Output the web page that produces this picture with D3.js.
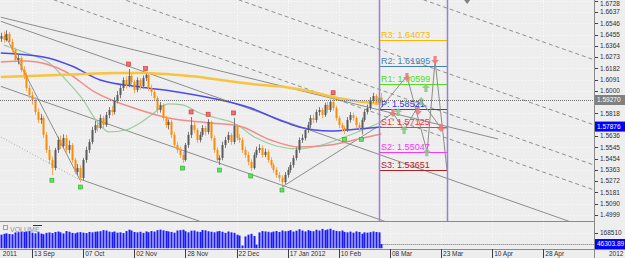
<!DOCTYPE html>
<html>
<head>
<meta charset="utf-8">
<script src="https://cdn.jsdelivr.net/npm/d3@7"></script>
<style>
body { margin: 0; background: #eeeeee; }
svg { display: block; font-family: "Liberation Sans", Arial, sans-serif; }
</style>
</head>
<body>
<div id="chart"></div>
<script>
// daily bars, bar index 0 = first bar on screen
var opens = [1.6420,1.6444,1.6411,1.6460,1.6395,1.6331,1.6250,1.6266,1.6169,1.6129,
 1.6024,1.5967,1.5927,1.5830,1.5766,1.5782,1.5645,1.5524,1.5443,1.5378,
 1.5524,1.5604,1.5556,1.5620,1.5524,1.5564,1.5443,1.5346,1.5378,1.5298,
 1.5443,1.5524,1.5588,1.5685,1.5725,1.5701,1.5782,1.5725,1.5806,1.5846,
 1.5830,1.5927,1.5967,1.6024,1.6088,1.6048,1.6121,1.6072,1.6008,1.6088,
 1.6040,1.6105,1.6129,1.6024,1.5992,1.5943,1.5846,1.5887,1.5782,1.5725,
 1.5750,1.5645,1.5564,1.5524,1.5483,1.5443,1.5564,1.5645,1.5725,1.5685,
 1.5604,1.5645,1.5701,1.5669,1.5750,1.5620,1.5524,1.5443,1.5459,1.5564,
 1.5604,1.5645,1.5588,1.5717,1.5620,1.5604,1.5524,1.5483,1.5427,1.5378,
 1.5483,1.5524,1.5540,1.5483,1.5508,1.5443,1.5402,1.5362,1.5322,1.5298,
 1.5265,1.5322,1.5362,1.5402,1.5459,1.5524,1.5604,1.5620,1.5685,1.5725,
 1.5782,1.5766,1.5830,1.5846,1.5806,1.5887,1.5846,1.5911,1.5862,1.5782,
 1.5725,1.5701,1.5685,1.5766,1.5806,1.5782,1.5725,1.5701,1.5766,1.5830,
 1.5862,1.5927,1.5959,1.5903,1.5946];
var highs = [1.6470,1.6480,1.6490,1.6475,1.6420,1.6350,1.6300,1.6280,1.6200,1.6150,
 1.6050,1.5995,1.5950,1.5860,1.5815,1.5800,1.5670,1.5560,1.5470,1.5540,
 1.5630,1.5640,1.5650,1.5645,1.5600,1.5580,1.5460,1.5410,1.5400,1.5460,
 1.5550,1.5610,1.5710,1.5760,1.5750,1.5810,1.5800,1.5830,1.5870,1.5880,
 1.5950,1.6000,1.6050,1.6110,1.6120,1.6177,1.6140,1.6090,1.6110,1.6105,
 1.6125,1.6140,1.6135,1.6050,1.6010,1.5960,1.5910,1.5900,1.5800,1.5770,
 1.5765,1.5670,1.5590,1.5550,1.5510,1.5580,1.5670,1.5790,1.5750,1.5700,
 1.5670,1.5725,1.5720,1.5772,1.5760,1.5640,1.5545,1.5480,1.5590,1.5630,
 1.5670,1.5660,1.5782,1.5730,1.5650,1.5625,1.5550,1.5510,1.5450,1.5505,
 1.5550,1.5570,1.5560,1.5535,1.5525,1.5465,1.5420,1.5385,1.5345,1.5320,
 1.5345,1.5385,1.5425,1.5480,1.5545,1.5625,1.5650,1.5705,1.5750,1.5805,
 1.5810,1.5850,1.5870,1.5865,1.5905,1.5910,1.5930,1.5945,1.5880,1.5800,
 1.5745,1.5720,1.5790,1.5830,1.5825,1.5795,1.5745,1.5785,1.5850,1.5890,
 1.5950,1.5985,1.5975,1.5965,1.5984];
var lows = [1.6395,1.6390,1.6400,1.6370,1.6310,1.6230,1.6215,1.6150,1.6095,1.6000,
 1.5940,1.5890,1.5805,1.5740,1.5735,1.5620,1.5500,1.5410,1.5320,1.5360,
 1.5500,1.5530,1.5540,1.5500,1.5495,1.5420,1.5330,1.5320,1.5265,1.5280,
 1.5420,1.5500,1.5570,1.5660,1.5670,1.5690,1.5700,1.5710,1.5780,1.5800,
 1.5810,1.5900,1.5940,1.6000,1.6020,1.6030,1.6050,1.5980,1.5990,1.6010,
 1.6020,1.6080,1.6000,1.5960,1.5920,1.5820,1.5825,1.5760,1.5700,1.5690,
 1.5620,1.5540,1.5500,1.5460,1.5418,1.5430,1.5540,1.5620,1.5660,1.5580,
 1.5585,1.5630,1.5640,1.5650,1.5600,1.5500,1.5420,1.5402,1.5440,1.5540,
 1.5580,1.5565,1.5570,1.5600,1.5580,1.5500,1.5460,1.5400,1.5354,1.5365,
 1.5460,1.5500,1.5460,1.5465,1.5420,1.5380,1.5340,1.5300,1.5270,1.5241,
 1.5250,1.5300,1.5340,1.5380,1.5440,1.5500,1.5580,1.5600,1.5660,1.5700,
 1.5740,1.5745,1.5800,1.5780,1.5790,1.5820,1.5830,1.5840,1.5760,1.5700,
 1.5675,1.5650,1.5670,1.5745,1.5760,1.5700,1.5670,1.5650,1.5750,1.5810,
 1.5845,1.5905,1.5885,1.5890,1.5905];
var closes = [1.6444,1.6411,1.6460,1.6395,1.6331,1.6250,1.6266,1.6169,1.6129,1.6024,
 1.5967,1.5927,1.5830,1.5766,1.5782,1.5645,1.5524,1.5443,1.5378,1.5524,
 1.5604,1.5556,1.5620,1.5524,1.5564,1.5443,1.5346,1.5378,1.5298,1.5443,
 1.5524,1.5588,1.5685,1.5725,1.5701,1.5782,1.5725,1.5806,1.5846,1.5830,
 1.5927,1.5967,1.6024,1.6088,1.6048,1.6121,1.6072,1.6008,1.6088,1.6040,
 1.6105,1.6129,1.6024,1.5992,1.5943,1.5846,1.5887,1.5782,1.5725,1.5750,
 1.5645,1.5564,1.5524,1.5483,1.5443,1.5564,1.5645,1.5725,1.5685,1.5604,
 1.5645,1.5701,1.5669,1.5750,1.5620,1.5524,1.5443,1.5459,1.5564,1.5604,
 1.5645,1.5588,1.5717,1.5620,1.5604,1.5524,1.5483,1.5427,1.5378,1.5483,
 1.5524,1.5540,1.5483,1.5508,1.5443,1.5402,1.5362,1.5322,1.5298,1.5265,
 1.5322,1.5362,1.5402,1.5459,1.5524,1.5604,1.5620,1.5685,1.5725,1.5782,
 1.5766,1.5830,1.5846,1.5806,1.5887,1.5846,1.5911,1.5862,1.5782,1.5725,
 1.5701,1.5685,1.5766,1.5806,1.5782,1.5725,1.5701,1.5766,1.5830,1.5862,
 1.5927,1.5959,1.5903,1.5946,1.5927];
var volumes = [150000,160000,165000,158000,155000,175000,178000,182000,180000,185000,
 190000,172000,165000,178000,162000,155000,170000,175000,168000,180000,
 185000,176000,164000,190000,182000,170000,165000,175000,178000,172000,
 168000,180000,176000,182000,185000,188000,200000,196000,184000,178000,
 185000,172000,176000,168000,190000,205000,196000,180000,176000,182000,
 170000,186000,178000,190000,184000,200000,206000,198000,192000,186000,
 180000,172000,196000,200000,205000,188000,176000,194000,196000,184000,
 180000,202000,198000,188000,182000,176000,186000,190000,182000,170000,
 185000,176000,170000,150000,140000,30000,130000,150000,160000,135000,
 40000,175000,190000,186000,182000,176000,184000,190000,180000,196000,
 188000,192000,200000,184000,194000,210000,196000,186000,200000,192000,
 188000,204000,196000,214000,200000,208000,216000,200000,192000,188000,
 196000,180000,176000,184000,172000,186000,180000,160000,176000,172000,
 178000,186000,180000,176000,46303.89];

// moving averages (bar index, price)
var yellowIdx = [0,10,20,30,40,50,60,70,75,80,90,100,110,117,125,134];
var yellowVal = [1.6113,1.6121,1.6129,1.6137,1.6145,1.6145,1.6133,1.6113,1.6096,1.6080,1.6052,1.6032,1.5991,1.5951,1.5919,1.5895];
var blueIdx = [0,15,25,35,49,60,74,88,98,105,116,126,134];
var blueVal = [1.6306,1.6274,1.6201,1.6088,1.6032,1.6000,1.5943,1.5862,1.5766,1.5709,1.5677,1.5693,1.5709];
var redIdx = [0,9,23,33,49,59,74,84,95,105,116,126,134];
var redVal = [1.6234,1.6242,1.6153,1.5992,1.5846,1.5782,1.5742,1.5717,1.5604,1.5548,1.5564,1.5612,1.5653];
var greenIdx = [1,3,11,17,23,29,34,38,44,49,53,59,64,70,76,82,90,97,105,113,123,134];
var greenVal = [1.6371,1.6355,1.6290,1.6226,1.6088,1.5927,1.5750,1.5669,1.5685,1.5741,1.5806,1.5895,1.5887,1.5822,1.5782,1.5741,1.5620,1.5556,1.5532,1.5564,1.5645,1.5750];

var fractalUp = [45, 51, 67, 73, 82, 117];
var fractalDown = [18, 28, 64, 77, 88, 99, 121, 127];

var priceTicks = [1.6728,1.6637,1.6546,1.6455,1.6364,1.6273,1.6182,1.6091,1.6000,1.5818,1.5636,1.5545,1.5454,1.5363,1.5272,1.5181,1.5090,1.4999];
var gridPrices = [1.6728,1.6637,1.6546,1.6455,1.6364,1.6273,1.6182,1.6091,1.6000,1.5909,1.5818,1.5727,1.5636,1.5545,1.5454,1.5363,1.5272,1.5181,1.5090,1.4999];
var dateIdx = [0,11,29,47,65,83,101,119,137,155,173,191];
var dateLabels = ["2011","13 Sep","07 Oct","02 Nov","28 Nov","22 Dec","17 Jan 2012","10 Feb","08 Mar","23 Mar","10 Apr","28 Apr"];

var pivotNames = ["R3","R2","R1","P","S1","S2","S3"];
var pivotValues = [1.64073,1.61995,1.60599,1.58521,1.57125,1.55047,1.53651];
var pivotColors = ["#f5b800","#4682b4","#55dd22","#3333ff","#ff3333","#ff33ff","#b22222"];
var pivotFrom = 133.2, pivotTo = 157.1;

// fibonacci channel: solid base lines and dashed expansions [idx1, price1, idx2, price2]
var channelSolid = [
  [0,1.6562,209,1.4876],
  [0,1.6037,209,1.4353],
  [27.9,1.5288,209,1.3828]
];
var channelDashed = [
  [0,1.6886,209,1.5200],
  [0,1.7087,209,1.5401],
  [0,1.7411,209,1.5725],
  [0,1.7936,209,1.6250]
];
// other hand-drawn lines: [idx1, price1, idx2, price2, style]
var trendLines = [
  [0,1.6595,175.1,1.5612,"solid"],
  [1.5,1.6452,27.9,1.5281,"solid"],
  [0,1.5629,27.9,1.5281,"dot"],
  [99,1.5225,132.5,1.5709,"solid"]
];
// projection zigzags inside the pivot box
var zig1Idx = [133.5,143.0,150.1,152.9,157.1];
var zig1Val = [1.5854,1.6121,1.5507,1.6242,1.5362];
var zig2Idx = [133.5,138.1,142.0,148.0,155.0,157.1];
var zig2Val = [1.5749,1.5822,1.5685,1.5919,1.5701,1.5701];
var arrowsDown = [[152.9,1.6250],[143.0,1.6113],[138.1,1.5822],[146.9,1.5838],[155.0,1.5701]];
var arrowsUp = [[149.7,1.6024],[148.0,1.5919],[139.9,1.5830],[142.0,1.5685],[150.0,1.5505]];
var topMarker = [164.2, 1.6718];

var bid = 1.5927;

var W = 625, H = 258, plotR = 594, mainB = 221, volB = 249;

var x = d3.scaleLinear().domain([0, 209]).range([0.8, 594.4]);
var y = d3.scaleLinear().domain([1.6637, 1.4999]).range([12, 215]);
var vy = d3.scaleLinear().domain([0, 168510]).range([248.2, 233]);

var svg = d3.select('#chart').append('svg')
    .attr('width', W)
    .attr('height', H);

svg.append('rect').attr('width', W).attr('height', H).attr('fill', '#eeeeee');

var defs = svg.append('defs');
defs.append('clipPath').attr('id', 'clipMain')
    .append('rect').attr('x', 0).attr('y', 0).attr('width', plotR).attr('height', mainB);

// grid
var grid = svg.append('g').attr('stroke', '#fbfbfb').attr('stroke-dasharray', '1,2');
grid.selectAll('.hg').data(gridPrices).enter().append('line')
    .attr('x1', 0).attr('x2', plotR)
    .attr('y1', function (d) { return Math.round(y(d)) + 0.5; })
    .attr('y2', function (d) { return Math.round(y(d)) + 0.5; });
grid.selectAll('.vg').data(dateIdx.slice(1)).enter().append('line')
    .attr('x1', function (d) { return Math.round(x(d)) + 0.5; })
    .attr('x2', function (d) { return Math.round(x(d)) + 0.5; })
    .attr('y1', 0).attr('y2', volB);
grid.append('line').attr('x1', 0).attr('x2', plotR)
    .attr('y1', Math.round(vy(168510)) + 0.5).attr('y2', Math.round(vy(168510)) + 0.5);

var main = svg.append('g').attr('clip-path', 'url(#clipMain)');

function seg(sel, data, color, dash) {
    sel.selectAll(null).data(data).enter().append('line')
        .attr('x1', function (d) { return x(d[0]); })
        .attr('y1', function (d) { return y(d[1]); })
        .attr('x2', function (d) { return x(d[2]); })
        .attr('y2', function (d) { return y(d[3]); })
        .attr('stroke', color)
        .attr('stroke-width', 1)
        .attr('stroke-dasharray', dash);
}
seg(main, channelDashed, '#8f8f8f', '4,3');
seg(main, channelSolid, '#8c8c8c', null);
seg(main, trendLines.filter(function (d) { return d[4] === 'solid'; }), '#8c8c8c', null);
seg(main, trendLines.filter(function (d) { return d[4] === 'dot'; }), '#a8a8a8', '1,2');

// moving averages
function maLine(idx, vals) {
    return d3.line()
        .x(function (d, i) { return x(idx[i]); })
        .y(function (d) { return y(d); })
        .curve(d3.curveMonotoneX)(vals);
}
main.append('path').attr('d', maLine(greenIdx, greenVal)).attr('fill', 'none').attr('stroke', '#9ccc9c').attr('stroke-width', 1.2);
main.append('path').attr('d', maLine(redIdx, redVal)).attr('fill', 'none').attr('stroke', '#f28c8c').attr('stroke-width', 1.5);
main.append('path').attr('d', maLine(blueIdx, blueVal)).attr('fill', 'none').attr('stroke', '#4a4af0').attr('stroke-width', 1.5);
main.append('path').attr('d', maLine(yellowIdx, yellowVal)).attr('fill', 'none').attr('stroke', '#f7c440').attr('stroke-width', 2.5);

// candles
var bars = d3.range(closes.length);
var cg = main.append('g');
cg.selectAll('.wick').data(bars).enter().append('line')
    .attr('x1', function (i) { return Math.round(x(i)) + 0.5; })
    .attr('x2', function (i) { return Math.round(x(i)) + 0.5; })
    .attr('y1', function (i) { return y(highs[i]); })
    .attr('y2', function (i) { return y(lows[i]); })
    .attr('stroke', function (i) { return closes[i] >= opens[i] ? '#7a7a7a' : '#f4a860'; });
cg.selectAll('.body').data(bars).enter().append('rect')
    .attr('x', function (i) { return Math.round(x(i)) - 0.5; })
    .attr('width', 2)
    .attr('y', function (i) { return y(Math.max(opens[i], closes[i])); })
    .attr('height', function (i) { return Math.max(1, Math.abs(y(opens[i]) - y(closes[i]))); })
    .attr('fill', function (i) { return closes[i] >= opens[i] ? '#5a5a5a' : '#ff8c00'; });

// fractal markers
main.selectAll('.fu').data(fractalUp).enter().append('rect')
    .attr('x', function (i) { return x(i) - 2; })
    .attr('y', function (i) { return y(highs[i]) - 7; })
    .attr('width', 4).attr('height', 4)
    .attr('fill', '#f07070').attr('stroke', '#d03030').attr('stroke-width', 0.6);
main.selectAll('.fd').data(fractalDown).enter().append('rect')
    .attr('x', function (i) { return x(i) - 2; })
    .attr('y', function (i) { return y(lows[i]) + 3; })
    .attr('width', 4).attr('height', 4)
    .attr('fill', '#60e060').attr('stroke', '#20b020').attr('stroke-width', 0.6);

// pivot box
var pg = main.append('g');
pg.selectAll('.pl').data(pivotValues).enter().append('line')
    .attr('x1', x(pivotFrom)).attr('x2', x(pivotTo))
    .attr('y1', function (d) { return Math.round(y(d)) + 0.5; })
    .attr('y2', function (d) { return Math.round(y(d)) + 0.5; })
    .attr('stroke', function (d, i) { return pivotColors[i]; })
    .attr('stroke-width', 1.2);
function zig(idx, vals) {
    return d3.line().x(function (d, i) { return x(idx[i]); }).y(function (d) { return y(d); })(vals);
}
pg.append('path').attr('d', zig(zig1Idx, zig1Val)).attr('fill', 'none').attr('stroke', '#8c8c8c');
pg.append('path').attr('d', zig(zig2Idx, zig2Val)).attr('fill', 'none').attr('stroke', '#8c8c8c');
pg.selectAll('.plab').data(pivotValues).enter().append('text')
    .attr('x', x(pivotFrom) + 2)
    .attr('y', function (d) { return y(d) - 2; })
    .attr('fill', function (d, i) { return pivotColors[i]; })
    .attr('font-size', '9px')
    .text(function (d, i) { return pivotNames[i] + ': ' + d.toFixed(5); });
function arrow(up) {
    return up ? 'M0,-4L4,0L1.6,0L1.6,4L-1.6,4L-1.6,0L-4,0Z' : 'M0,4L4,0L1.6,0L1.6,-4L-1.6,-4L-1.6,0L-4,0Z';
}
pg.selectAll('.ad').data(arrowsDown).enter().append('path')
    .attr('d', arrow(false))
    .attr('transform', function (d) { return 'translate(' + x(d[0]) + ',' + y(d[1]) + ')'; })
    .attr('fill', '#f07878').attr('opacity', 0.9);
pg.selectAll('.au').data(arrowsUp).enter().append('path')
    .attr('d', arrow(true))
    .attr('transform', function (d) { return 'translate(' + x(d[0]) + ',' + y(d[1]) + ')'; })
    .attr('fill', '#88c888').attr('opacity', 0.9);
pg.selectAll('.pv').data([pivotFrom, pivotTo]).enter().append('line')
    .attr('x1', function (d) { return Math.round(x(d)) + 0.5; })
    .attr('x2', function (d) { return Math.round(x(d)) + 0.5; })
    .attr('y1', 0).attr('y2', mainB)
    .attr('stroke', '#9b7fd0').attr('stroke-width', 1.5);
main.append('path').attr('d', 'M-3,-2L3,-2L0,2Z')
    .attr('transform', 'translate(' + x(topMarker[0]) + ',' + y(topMarker[1]) + ')')
    .attr('fill', '#808080');

// bid line
svg.append('line').attr('x1', 0).attr('x2', plotR)
    .attr('y1', Math.round(y(bid)) + 0.5).attr('y2', Math.round(y(bid)) + 0.5)
    .attr('stroke', '#707070').attr('stroke-dasharray', '1,1');

// volume
svg.selectAll('.vb').data(bars).enter().append('rect')
    .attr('x', function (i) { return Math.round(x(i)) - 0.5; })
    .attr('width', 2)
    .attr('y', function (i) { return vy(volumes[i]); })
    .attr('height', function (i) { return vy(0) - vy(volumes[i]); })
    .attr('fill', '#1a1aff');
svg.append('line').attr('x1', x(closes.length - 1) + 2).attr('x2', plotR)
    .attr('y1', Math.round(vy(volumes[volumes.length - 1])) + 0.5)
    .attr('y2', Math.round(vy(volumes[volumes.length - 1])) + 0.5)
    .attr('stroke', '#707070').attr('stroke-dasharray', '1,1');
svg.append('rect').attr('x', 3.5).attr('y', 225.5).attr('width', 4).attr('height', 4)
    .attr('fill', 'none').attr('stroke', '#a0a0a0');
svg.append('text').attr('x', 10).attr('y', 232).attr('font-size', '7px').attr('fill', '#909090').text('VOLUME');
svg.append('line').attr('x1', 33).attr('x2', 42).attr('y1', 225.5).attr('y2', 225.5).attr('stroke', '#1a1aff');

// frames
var fr = svg.append('g').attr('stroke', '#8a8a8a').attr('fill', 'none');
fr.append('line').attr('x1', plotR + 0.5).attr('x2', plotR + 0.5).attr('y1', 0).attr('y2', H);
fr.append('line').attr('x1', 0).attr('x2', plotR).attr('y1', mainB + 0.5).attr('y2', mainB + 0.5);
fr.append('line').attr('x1', 0).attr('x2', W).attr('y1', volB + 0.5).attr('y2', volB + 0.5);

// price axis
var pa = svg.append('g').attr('font-size', '6.5px').attr('fill', '#303030');
pa.selectAll('.pt').data(priceTicks).enter().append('line')
    .attr('x1', plotR + 1).attr('x2', plotR + 4)
    .attr('y1', function (d) { return Math.round(y(d)) + 0.5; })
    .attr('y2', function (d) { return Math.round(y(d)) + 0.5; })
    .attr('stroke', '#404040');
pa.selectAll('.ptl').data(priceTicks).enter().append('text')
    .attr('x', plotR + 6)
    .attr('y', function (d) { return Math.max(6, y(d) + 2.3); })
    .text(function (d) { return d.toFixed(4); });
pa.append('line').attr('x1', plotR + 1).attr('x2', plotR + 4)
    .attr('y1', Math.round(vy(168510)) + 0.5).attr('y2', Math.round(vy(168510)) + 0.5).attr('stroke', '#404040');
pa.append('text').attr('x', plotR + 6).attr('y', vy(168510) + 2.3).text('168510');

function tag(yy, bg, txt) {
    svg.append('rect').attr('x', plotR + 1).attr('y', yy - 5).attr('width', W - plotR - 1).attr('height', 10).attr('fill', bg);
    svg.append('text').attr('x', plotR + 3).attr('y', yy + 2.3).attr('font-size', '6.5px').attr('fill', '#ffffff').text(txt);
}
tag(y(bid), '#808080', '1.59270');
tag(y(pivotValues[4]), '#0000ff', '1.57876');
tag(vy(volumes[volumes.length - 1]), '#0000ff', '46303.89');

// date axis
var da = svg.append('g').attr('font-size', '6.5px').attr('fill', '#303030');
da.selectAll('.dt').data(dateIdx.slice(1)).enter().append('line')
    .attr('x1', function (d) { return Math.round(x(d)) + 0.5; })
    .attr('x2', function (d) { return Math.round(x(d)) + 0.5; })
    .attr('y1', volB).attr('y2', H)
    .attr('stroke', '#404040');
da.selectAll('.dl').data(dateIdx).enter().append('text')
    .attr('x', function (d) { return x(d) + 2; })
    .attr('y', 256)
    .text(function (d, i) { return dateLabels[i]; });
da.append('text').attr('x', 609).attr('y', 256).text('2012');
</script>
</body>
</html>
